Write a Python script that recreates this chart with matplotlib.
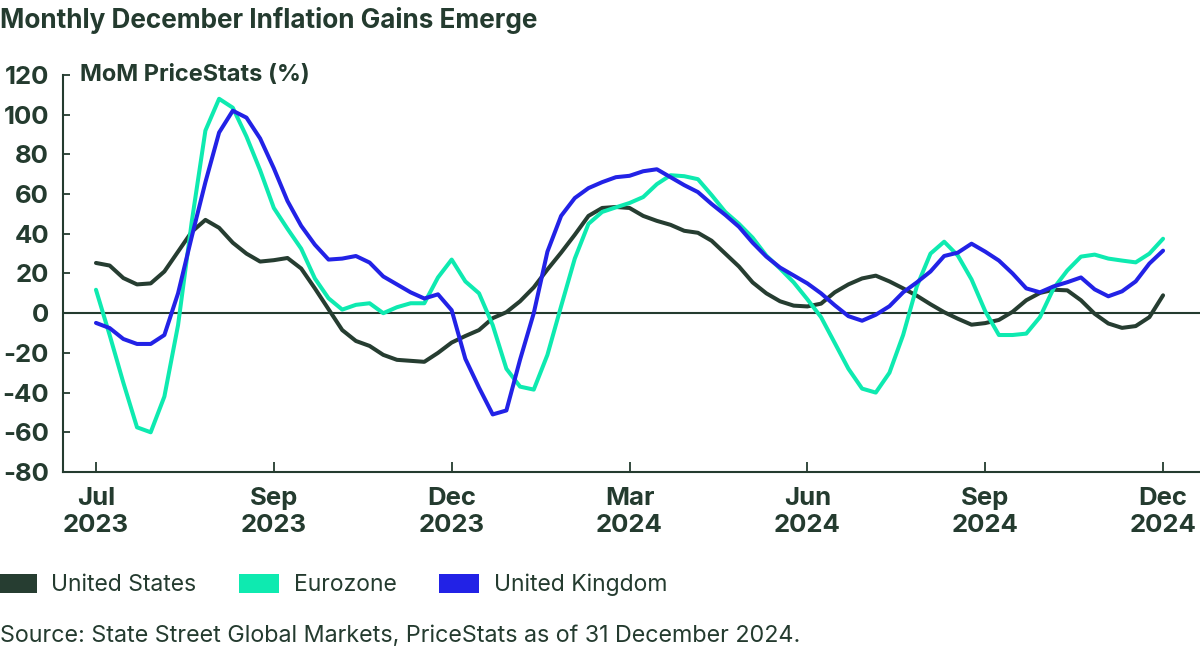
import numpy as np
import matplotlib.pyplot as plt
from matplotlib.patches import Patch

# weekly readings, Jul 2023 -> Dec 2024
united_states = [25.3, 24, 17.7, 14.5, 15, 21, 31, 41, 47, 43, 35.5, 30, 26, 26.7, 27.8, 22.5,
                 12.5, 2, -8.5, -14, -16.5, -21, -23.5, -24, -24.5, -20, -14.8, -11.5, -8.5, -2.5,
                 0.5, 6, 13, 22, 30.5, 39.5, 49, 53, 53.5, 53, 49, 46.5, 44.5, 41.5, 40.5, 36.5,
                 30, 23.5, 15.5, 10, 6, 3.8, 3.4, 4.8, 10.5, 14.5, 17.5, 18.9, 16, 12.5, 8.8, 4.5,
                 0.5, -2.8, -5.8, -5, -3.4, 0.7, 6.5, 10.2, 11.8, 11.5, 6.5, -0.3, -5.2, -7.4,
                 -6.5, -2, 9]
eurozone = [11.8, -11, -35, -57.5, -60, -42, -6, 46, 92, 108, 103.5, 89, 72, 53, 42.5, 32.5,
            17.5, 7.5, 1.8, 4.2, 5, 0, 3, 5, 5, 18, 27, 16, 10, -6, -28, -37, -38.5, -21, 3.5,
            27.5, 45, 51, 53.3, 55.5, 58.5, 65, 69.5, 69, 67.5, 59.5, 51, 45, 38, 29, 22.5,
            15.5, 7, -2, -15, -28, -38, -40, -30, -11, 13.5, 30, 36, 29, 17, 1, -11, -11, -10.3,
            -2, 12.5, 21.5, 28.5, 29.5, 27.5, 26.5, 25.6, 30, 37.5]
united_kingdom = [-4.9, -7.5, -13, -15.5, -15.5, -11, 10, 38.5, 66, 91, 102, 98.5, 88, 73, 56.5,
                  44, 34.5, 27, 27.5, 28.8, 25.5, 18.5, 14.5, 10.5, 7.4, 9.5, 1.5, -23, -37.5,
                  -51, -49, -23.4, 0, 31, 49, 58, 63, 66, 68.5, 69.2, 71.5, 72.5, 68.5, 64.5, 61,
                  55, 49.5, 43.5, 35.5, 28.5, 23, 19, 15, 10, 4, -1.5, -3.8, -0.8, 3.5, 10.5,
                  15.5, 21, 28.8, 30.5, 35, 31, 26.5, 20, 12.5, 10.5, 13.5, 15.6, 18, 12, 8.5,
                  11, 16, 25, 31.5]
tick_weeks = [0, 13, 26, 39, 52, 65, 78]
tick_labels = ["Jul\n2023", "Sep\n2023", "Dec\n2023", "Mar\n2024", "Jun\n2024", "Sep\n2024", "Dec\n2024"]

dark = "#243b2f"
colors = {"United States": "#263d31", "Eurozone": "#0eeab0", "United Kingdom": "#2222e6"}

plt.rcParams['font.family'] = ['Inter', 'DejaVu Sans']

fig = plt.figure(figsize=(12, 6.53), dpi=100)
ax = fig.add_axes([0.0525, 0.2772, 0.9475, 0.608])

weeks = np.arange(len(united_states))
for name, vals in [("United States", united_states), ("Eurozone", eurozone),
                   ("United Kingdom", united_kingdom)]:
    ax.plot(weeks, vals, color=colors[name], lw=2.9, solid_capstyle='round',
            solid_joinstyle='round')
ax.axhline(0, color=dark, lw=1.5, zorder=1)

ax.set_xlim(-2.41, 80.7)
ax.set_ylim(-80, 120)
ax.set_yticks(range(-80, 121, 20))
ax.set_yticklabels([str(v) for v in range(-80, 121, 20)], fontsize=18.5, fontweight='bold', color=dark)
ax.set_xticks(tick_weeks)
ax.set_xticklabels(tick_labels, fontsize=18.5, fontweight='bold', color=dark, linespacing=1.2)
ax.tick_params(axis='y', direction='in', length=5, width=1.3, color=dark, pad=10)
ax.tick_params(axis='x', direction='in', length=7, width=1.3, color=dark, pad=11)
for s in ['top', 'right']:
    ax.spines[s].set_visible(False)
for s in ['left', 'bottom']:
    ax.spines[s].set_color(dark)
    ax.spines[s].set_linewidth(1.5)

ax.text(0.015, 1.0, "MoM PriceStats (%)", transform=ax.transAxes, fontsize=17,
        fontweight='bold', color=dark, va='center', ha='left')

fig.text(0.0, 0.99, "Monthly December Inflation Gains Emerge", fontsize=18.8,
         fontweight='bold', color=dark, va='top', ha='left')

handles = [Patch(facecolor=c, edgecolor='none', label=k) for k, c in colors.items()]
leg = fig.legend(handles=handles, loc='center left', bbox_to_anchor=(-0.003, 0.104), ncol=3,
                 frameon=False, fontsize=16.5, handlelength=1.75, handleheight=0.92,
                 handletextpad=0.65, columnspacing=1.85, borderaxespad=0, borderpad=0)
for t in leg.get_texts():
    t.set_color(dark)

fig.text(0.0, 0.026, "Source: State Street Global Markets, PriceStats as of 31 December 2024.",
         fontsize=16.8, color=dark, va='center', ha='left')

fig.savefig("out.png", dpi=100)
